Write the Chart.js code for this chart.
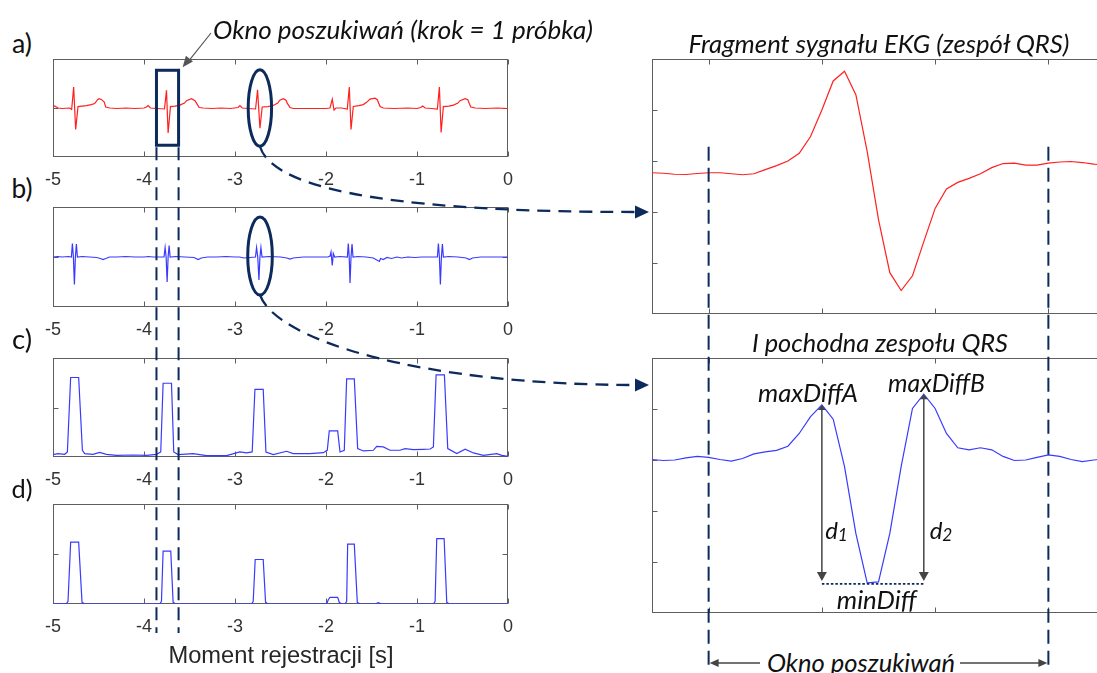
<!DOCTYPE html>
<html>
<head>
<meta charset="utf-8">
<script src="https://cdn.jsdelivr.net/npm/chart.js@4"></script>
<style>
  html, body { margin: 0; padding: 0; background: #fff; overflow: hidden; width: 1097px; height: 673px; }
  .pane { position: absolute; }
  .txt { position: absolute; white-space: nowrap; line-height: 1; transform: translate(-50%, -50%); }
  #overlay { position: absolute; left: 0; top: 0; pointer-events: none; }
</style>
</head>
<body>
<script>
// ---------- a) raw ECG, last 5 s ----------
const ekgTime = [-5, -4.982, -4.945, -4.90, -4.817, -4.795, -4.773, -4.751, -4.725, -4.68,
  -4.633, -4.58, -4.542, -4.51, -4.494, -4.465, -4.437, -4.421, -4.377, -4.30,
  -4.20, -4.10, -4.0, -3.973, -3.955, -3.929, -3.85, -3.775, -3.753, -3.735,
  -3.709, -3.66, -3.607, -3.555, -3.533, -3.478, -3.44, -3.423, -3.394, -3.35,
  -3.25, -3.15, -3.05, -2.965, -2.946, -2.921, -2.85, -2.774, -2.752, -2.726,
  -2.701, -2.64, -2.58, -2.53, -2.507, -2.470, -2.44, -2.426, -2.396, -2.36,
  -2.25, -2.10, -2.0, -1.956, -1.931, -1.912, -1.890, -1.83, -1.766, -1.744,
  -1.725, -1.700, -1.64, -1.590, -1.55, -1.516, -1.461, -1.436, -1.406, -1.370,
  -1.25, -1.10, -1.0, -0.959, -0.937, -0.911, -0.84, -0.776, -0.754, -0.735,
  -0.710, -0.65, -0.600, -0.55, -0.527, -0.471, -0.442, -0.409, -0.361, -0.25,
  -0.12, 0];
const ekgValue = [0.02, 0.04, 0.0, -0.01, 0.0, -0.03, 0.43, -0.44, 0.03, 0.04,
  0.05, 0.07, 0.09, 0.17, 0.19, 0.17, 0.12, 0.02, 0.0, -0.01,
  0.0, -0.01, 0.0, 0.02, 0.05, 0.0, -0.01, -0.02, 0.36, -0.51,
  0.03, 0.04, 0.06, 0.10, 0.15, 0.19, 0.15, 0.10, 0.01, 0.0,
  -0.01, 0.0, -0.01, 0.01, 0.05, 0.0, -0.01, -0.02, 0.37, -0.41,
  0.02, 0.03, 0.05, 0.10, 0.16, 0.19, 0.16, 0.10, 0.01, -0.01,
  -0.01, -0.01, -0.01, 0.0, 0.18, -0.04, 0.0, 0.0, -0.02, 0.43,
  -0.44, 0.03, 0.05, 0.07, 0.12, 0.18, 0.20, 0.17, 0.03, 0.0,
  -0.01, 0.0, -0.01, 0.01, 0.04, 0.0, -0.01, -0.02, 0.43, -0.50,
  0.03, 0.04, 0.06, 0.10, 0.15, 0.19, 0.17, 0.02, 0.0, -0.01,
  0.0, -0.01];

// ---------- b) first derivative ----------
const diffTime = [-5, -4.95, -4.90, -4.83, -4.798, -4.787, -4.776, -4.765, -4.754, -4.743,
  -4.732, -4.68, -4.60, -4.52, -4.48, -4.45, -4.42, -4.38, -4.30, -4.20,
  -4.10, -4.0, -3.95, -3.90, -3.78, -3.768, -3.757, -3.746, -3.735, -3.724,
  -3.713, -3.65, -3.55, -3.45, -3.405, -3.37, -3.30, -3.2, -3.1, -3.0,
  -2.95, -2.90, -2.775, -2.763, -2.750, -2.737, -2.726, -2.715, -2.703, -2.63,
  -2.5, -2.43, -2.396, -2.36, -2.25, -2.1, -1.98, -1.955, -1.945, -1.931,
  -1.920, -1.905, -1.85, -1.765, -1.755, -1.745, -1.736, -1.725, -1.714, -1.703,
  -1.65, -1.56, -1.48, -1.414, -1.40, -1.37, -1.33, -1.28, -1.22, -1.17,
  -1.10, -1.02, -0.95, -0.85, -0.776, -0.765, -0.754, -0.743, -0.732, -0.721,
  -0.710, -0.65, -0.55, -0.46, -0.424, -0.39, -0.3, -0.15, 0];
const diffValue = [0.0, 0.01, 0.0, 0.01, 0.0, 0.27, 0.0, -0.55, 0.0, 0.26,
  0.0, 0.01, 0.0, -0.01, -0.03, -0.05, -0.03, 0.0, 0.0, 0.01,
  0.0, 0.0, 0.01, 0.0, 0.0, 0.19, 0.0, -0.50, 0.0, 0.23,
  0.0, 0.01, 0.0, -0.01, -0.05, -0.02, 0.0, 0.0, 0.01, 0.0,
  0.0, -0.02, 0.0, 0.19, 0.0, -0.46, 0.0, 0.19, 0.0, 0.01,
  0.0, -0.02, -0.04, -0.02, 0.0, 0.0, 0.0, 0.02, 0.10, -0.17,
  0.07, 0.0, 0.01, 0.0, 0.27, 0.0, -0.52, 0.0, 0.26, 0.0,
  0.01, 0.0, -0.02, -0.09, -0.03, -0.05, -0.01, -0.03, 0.0, -0.02,
  0.0, -0.01, 0.0, 0.0, 0.0, 0.27, 0.0, -0.55, 0.0, 0.26,
  0.0, 0.01, 0.0, -0.02, -0.05, -0.02, 0.0, 0.0, 0.0];

// ---------- c) feature signal ----------
const featTime = [-5, -4.945, -4.872, -4.842, -4.806, -4.718, -4.677, -4.652, -4.560, -4.487,
  -4.413, -4.303, -4.120, -3.973, -3.863, -3.816, -3.790, -3.698, -3.673, -3.625,
  -3.460, -3.313, -3.093, -2.946, -2.873, -2.811, -2.781, -2.690, -2.660, -2.580,
  -2.433, -2.360, -2.176, -2.030, -1.986, -1.964, -1.872, -1.846, -1.799, -1.773,
  -1.689, -1.652, -1.590, -1.480, -1.443, -1.370, -1.296, -1.186, -1.131, -1.040,
  -0.930, -0.856, -0.820, -0.790, -0.699, -0.662, -0.563, -0.471, -0.380, -0.270,
  -0.123, -0.068, 0];
const featValue = [0.024, 0.034, 0.027, 0.051, 0.803, 0.803, 0.068, 0.034, 0.027, 0.047,
  0.027, 0.017, 0.020, 0.017, 0.027, 0.051, 0.745, 0.745, 0.051, 0.024,
  0.034, 0.014, 0.014, 0.051, 0.041, 0.051, 0.684, 0.684, 0.051, 0.024,
  0.058, 0.034, 0.034, 0.044, 0.068, 0.264, 0.264, 0.051, 0.068, 0.789,
  0.789, 0.085, 0.061, 0.068, 0.108, 0.102, 0.068, 0.068, 0.085, 0.075,
  0.078, 0.081, 0.102, 0.830, 0.830, 0.085, 0.034, 0.078, 0.041, 0.017,
  0.034, 0.017, 0.007];

// ---------- d) detection function ----------
const detTime = [-5, -4.853, -4.835, -4.806, -4.718, -4.681, -4.652, -3.827, -3.808, -3.790,
  -3.706, -3.680, -3.651, -2.818, -2.800, -2.778, -2.690, -2.664, -2.635, -1.993,
  -1.975, -1.956, -1.872, -1.854, -1.828, -1.791, -1.773, -1.762, -1.689, -1.656,
  -1.626, -1.461, -1.425, -1.388, -0.820, -0.801, -0.783, -0.702, -0.673, -0.644, 0];
const detValue = [0, 0.003, 0.027, 0.618, 0.618, 0.017, 0, 0, 0.027, 0.528,
  0.528, 0.017, 0, 0, 0.027, 0.445, 0.445, 0.017, 0, 0,
  0.043, 0.066, 0.066, 0.017, 0, 0, 0.027, 0.598, 0.598, 0.017,
  0, 0, 0.013, 0, 0, 0.027, 0.654, 0.654, 0.017, 0, 0];

// ---------- right: one QRS complex (samples) ----------
const qrsSample = [0, 1, 2, 3, 4, 5, 6, 7, 8, 9, 10, 11, 12, 13, 14, 15, 16, 17, 18, 19, 20,
  21, 22, 23, 24, 25, 26, 27, 28, 29, 30, 31, 32, 33, 34, 35, 36, 37, 38, 39, 40];
const qrsEkg = [2.77, 2.76, 2.74, 2.735, 2.755, 2.77, 2.77, 2.75, 2.73, 2.75,
  2.83, 2.91, 3.00, 3.15, 3.48, 4.00, 4.57, 4.76, 4.30, 3.19,
  1.85, 0.81, 0.46, 0.75, 1.42, 2.07, 2.45, 2.58, 2.66, 2.75,
  2.87, 2.95, 2.96, 2.92, 2.92, 2.96, 2.98, 2.99, 2.97, 2.94, 2.93];
const qrsDiff = [3.01, 2.99, 3.00, 3.04, 3.07, 3.05, 3.01, 2.98, 3.03, 3.12,
  3.16, 3.19, 3.27, 3.52, 3.85, 4.08, 3.80, 2.87, 1.56, 0.59,
  0.61, 1.56, 2.87, 4.01, 4.29, 4.01, 3.52, 3.24, 3.20, 3.24,
  3.20, 3.07, 2.99, 3.00, 3.05, 3.10, 3.07, 3.01, 2.97, 3.00, 3.02];

// ---------- tick positions ----------
const timeTicks = [-5, -4, -3, -2, -1, 0];
const sampleTicks = [5, 15, 25, 35];
const qrsLevelTicks = [1, 2, 3, 4];

// search window (seconds) and the marked complex
const windowStart = -3.863, windowEnd = -3.62;
const searchFrom = 5, searchTo = 35;        // search window in samples
const peakA = 15, peakB = 24;               // maxDiffA / maxDiffB sample index

const RED = '#ff2020';
const BLUE = '#3a3aff';
const NAVY = '#0d2a5c';
const FRAME = '#5e5e5e';
const PAD = 20;

// box + inward tick marks on all four sides
const framePlugin = {
  id: 'frame',
  beforeDatasetsDraw(chart, args, o) {
    const { ctx, chartArea: a, scales: { x, y } } = chart;
    const L = Math.round(a.left) + 0.5, R = Math.round(a.right) - 0.5;
    const T = Math.round(a.top) + 0.5, B = Math.round(a.bottom) - 0.5;
    ctx.save();
    ctx.strokeStyle = FRAME;
    ctx.lineWidth = 1;
    ctx.strokeRect(L, T, R - L, B - T);
    ctx.beginPath();
    (o.xTicks || []).forEach(v => {
      const px = Math.round(x.getPixelForValue(v)) + 0.5;
      ctx.moveTo(px, T); ctx.lineTo(px, T + 5);
      ctx.moveTo(px, B); ctx.lineTo(px, B - 5);
    });
    (o.yTicks || []).forEach(v => {
      const py = Math.round(y.getPixelForValue(v)) + 0.5;
      ctx.moveTo(L, py); ctx.lineTo(L + 5, py);
      ctx.moveTo(R, py); ctx.lineTo(R - 5, py);
    });
    ctx.stroke();
    ctx.restore();
  }
};

function makeChart(box, xs, ys, opt) {
  const below = opt.labels ? 40 : PAD;
  const W = box.w + 2 * PAD, H = box.h + PAD + below;
  const wrap = document.createElement('div');
  wrap.className = 'pane';
  wrap.style.left = (box.left - PAD) + 'px';
  wrap.style.top = (box.top - PAD) + 'px';
  const cv = document.createElement('canvas');
  cv.width = W; cv.height = H;
  cv.style.width = W + 'px'; cv.style.height = H + 'px';
  wrap.appendChild(cv);
  document.body.appendChild(wrap);
  const chart = new Chart(cv, {
    type: 'line',
    data: {
      datasets: [{
        data: xs.map((x, i) => ({ x, y: ys[i] })),
        borderColor: opt.color, borderWidth: 1.2,
        pointRadius: 0, tension: 0, fill: false
      }]
    },
    options: {
      responsive: false, animation: false, devicePixelRatio: 1,
      layout: { padding: { left: PAD, right: PAD, top: PAD, bottom: 0 } },
      plugins: {
        legend: { display: false }, tooltip: { enabled: false },
        frame: { xTicks: opt.xTicks, yTicks: opt.yTicks }
      },
      scales: {
        x: {
          type: 'linear', min: opt.xMin, max: opt.xMax, display: true,
          afterFit: s => { s.height = below; },
          grid: { display: false, drawTicks: false }, border: { display: false },
          ticks: {
            display: !!opt.labels,
            stepSize: 1, padding: 12, maxRotation: 0, autoSkip: false, color: '#333',
            font: { family: '"Liberation Sans", Arial, sans-serif', size: 18 }
          }
        },
        y: { type: 'linear', min: opt.yMin, max: opt.yMax, display: false }
      }
    },
    plugins: [framePlugin]
  });
  chart.pageLeft = box.left - PAD;
  chart.pageTop = box.top - PAD;
  return chart;
}

const leftBox = (top, h) => ({ left: 53, w: 455, top, h });
const chA = makeChart(leftBox(59, 98), ekgTime, ekgValue,
  { color: RED, xMin: -5, xMax: 0, yMin: -1, yMax: 1, labels: true, xTicks: timeTicks, yTicks: [0] });
const chB = makeChart(leftBox(207, 100), diffTime, diffValue,
  { color: BLUE, xMin: -5, xMax: 0, yMin: -1, yMax: 1, labels: true, xTicks: timeTicks, yTicks: [0] });
const chC = makeChart(leftBox(358, 99), featTime, featValue,
  { color: BLUE, xMin: -5, xMax: 0, yMin: 0, yMax: 1, labels: true, xTicks: timeTicks, yTicks: [0.5] });
const chD = makeChart(leftBox(504, 100), detTime, detValue,
  { color: BLUE, xMin: -5, xMax: 0, yMin: 0, yMax: 1, labels: true, xTicks: timeTicks, yTicks: [0.5] });
const chR1 = makeChart({ left: 652, w: 453, top: 59, h: 255 }, qrsSample, qrsEkg,
  { color: RED, xMin: 0, xMax: 40, yMin: 0, yMax: 5, labels: false, xTicks: sampleTicks, yTicks: qrsLevelTicks });
const chR2 = makeChart({ left: 652, w: 453, top: 358, h: 255 }, qrsSample, qrsDiff,
  { color: BLUE, xMin: 0, xMax: 40, yMin: 0, yMax: 5, labels: false, xTicks: sampleTicks, yTicks: qrsLevelTicks });

const px = (ch, v) => ch.pageLeft + ch.scales.x.getPixelForValue(v);
const py = (ch, v) => ch.pageTop + ch.scales.y.getPixelForValue(v);

// ---------- text ----------
const measure = document.createElement('canvas').getContext('2d');
function putText(html, plain, cx, cy, width, o) {
  const style = o.italic ? 'italic ' : '';
  let size = o.size;
  if (!size) {
    measure.font = style + '100px ' + o.family;
    size = 100 * width / measure.measureText(plain).width;
  }
  const el = document.createElement('div');
  el.className = 'txt';
  el.style.font = style + size.toFixed(1) + 'px ' + o.family;
  el.style.color = o.color || '#111';
  el.style.left = cx + 'px';
  el.style.top = cy + 'px';
  el.innerHTML = html;
  document.body.appendChild(el);
  return el;
}
const HUM = 'Lato, "Open Sans", sans-serif';
const it = { italic: true, family: HUM, color: '#111' };
putText('Okno poszukiwań (krok = 1 próbka)', 'Okno poszukiwań (krok = 1 próbka)', 403, 29, 380, it);
putText('Fragment sygnału EKG (zespół QRS)', 'Fragment sygnału EKG (zespół QRS)', 879, 43, 382, it);
putText('I pochodna zespołu QRS', 'I pochodna zespołu QRS', 880, 342, 256, it);
putText('Okno poszukiwań', 'Okno poszukiwań', 861, 662, 188, it);
putText('maxDiffA', 'maxDiffA', 808, 392, 100, it);
putText('maxDiffB', 'maxDiffB', 936.5, 382, 97, it);
putText('minDiff', 'minDiff', 876.7, 599, 80, it);
const sub = n => 'd<span style="font-size:0.72em;vertical-align:-0.14em">' + n + '</span>';
putText(sub(1), '', 836.5, 530, 0, { italic: true, family: HUM, size: 24, color: '#111' });
putText(sub(2), '', 941, 530, 0, { italic: true, family: HUM, size: 24, color: '#111' });
const up = { family: HUM, color: '#111' };
putText('a)', 'a)', 22, 43, 20, up);
putText('b)', 'b)', 22, 188, 21, up);
putText('c)', 'c)', 22, 338, 20, up);
putText('d)', 'd)', 22, 488, 21, up);
putText('Moment rejestracji [s]', 'Moment rejestracji [s]', 281, 655, 225,
  { family: '"Liberation Sans", Arial, sans-serif', color: '#262626' });

// ---------- annotation layer ----------
const ov = document.createElement('canvas');
ov.id = 'overlay';
ov.width = 1097; ov.height = 673;
document.body.appendChild(ov);
const g = ov.getContext('2d');

function head(x, y, ang, len, half, color) {
  g.save();
  g.translate(x, y); g.rotate(ang);
  g.beginPath(); g.moveTo(0, 0); g.lineTo(-len, -half); g.lineTo(-len, half); g.closePath();
  g.fillStyle = color; g.fill();
  g.restore();
}

// search window rectangle and its dashed guides through b)-d)
const wx1 = px(chA, windowStart), wx2 = px(chA, windowEnd);
const wy1 = py(chA, 0.77), wy2 = py(chA, -0.76);
g.strokeStyle = NAVY;
g.lineWidth = 3;
g.strokeRect(wx1, wy1, wx2 - wx1, wy2 - wy1);
const guideEnd = chD.pageTop + chD.chartArea.bottom + 29;
g.lineWidth = 2;
g.setLineDash([13, 7]);
[wx1, wx2].forEach(x => {
  g.beginPath(); g.moveTo(x, wy2 + 2); g.lineTo(x, guideEnd); g.stroke();
});

// ellipses around the selected QRS complex
function ringAround(ch, t0, t1, v0, v1) {
  const x0 = px(ch, t0), x1 = px(ch, t1), y0 = py(ch, v1), y1 = py(ch, v0);
  g.setLineDash([]);
  g.lineWidth = 3;
  g.strokeStyle = NAVY;
  g.beginPath();
  g.ellipse((x0 + x1) / 2, (y0 + y1) / 2, (x1 - x0) / 2, (y1 - y0) / 2, 0, 0, Math.PI * 2);
  g.stroke();
  return { x: (x0 + x1) / 2, y: y1 };
}
const ringA = ringAround(chA, -2.855, -2.598, -0.78, 0.78);
const ringB = ringAround(chB, -2.86, -2.59, -0.76, 0.80);

// dashed zoom arrows to the right-hand panels
function zoomArrow(from, toX, toY, c1, c2) {
  g.setLineDash([13, 8]);
  g.lineWidth = 2.3;
  g.strokeStyle = NAVY;
  g.beginPath();
  g.moveTo(from.x, from.y);
  g.bezierCurveTo(from.x + c1[0], from.y + c1[1], c2, toY, toX - 12, toY);
  g.stroke();
  g.setLineDash([]);
  head(toX, toY, 0, 14, 6.5, NAVY);
}
zoomArrow(ringA, px(chR1, 0) - 3, py(chR1, 2), [14, 48], 420);
zoomArrow(ringB, px(chR2, 0) - 3, py(chR2, 4.47), [16, 45], 420);

// pointer from the caption to the window
g.setLineDash([]);
g.strokeStyle = '#555';
g.lineWidth = 1.2;
g.beginPath(); g.moveTo(211, 33); g.lineTo(wx2 + 9, wy1 - 8); g.stroke();
head(wx2 + 4, wy1 - 3, Math.atan2((wy1 - 8) - 33, (wx2 + 9) - 211), 11, 4.5, '#555');

// search window on the zoomed complex
const sx1 = px(chR1, searchFrom), sx2 = px(chR1, searchTo);
const sTop = py(chR1, 3.28), sBottom = 668;
g.strokeStyle = NAVY;
g.lineWidth = 2;
g.setLineDash([14, 7]);
[sx1, sx2].forEach(x => {
  g.beginPath(); g.moveTo(x, sTop); g.lineTo(x, sBottom); g.stroke();
});
g.setLineDash([]);

// "Okno poszukiwań" span arrows
const spanY = 663;
g.strokeStyle = '#444';
g.lineWidth = 1.3;
g.beginPath(); g.moveTo(sx1 + 4, spanY); g.lineTo(760, spanY); g.stroke();
g.beginPath(); g.moveTo(960, spanY); g.lineTo(sx2 - 4, spanY); g.stroke();
head(sx1 + 1, spanY, Math.PI, 9, 4, '#444');
head(sx2 - 1, spanY, 0, 9, 4, '#444');

// d1 / d2 distances from each maximum down to the minimum
const minVal = Math.min(...qrsDiff);
const yMin = py(chR2, minVal);
[peakA, peakB].forEach(k => {
  const x = px(chR2, k);
  const yTop = py(chR2, qrsDiff[k]);
  g.strokeStyle = '#444';
  g.lineWidth = 1.5;
  g.beginPath(); g.moveTo(x, yTop + 3); g.lineTo(x, yMin - 8); g.stroke();
  head(x, yMin - 2, Math.PI / 2, 9, 5, '#444');
  head(x, yTop, -Math.PI / 2, 5, 4, '#444');
});
g.strokeStyle = NAVY;
g.lineWidth = 1.6;
g.setLineDash([2.5, 2]);
g.beginPath(); g.moveTo(px(chR2, peakA), yMin + 1); g.lineTo(px(chR2, peakB), yMin + 1); g.stroke();
g.setLineDash([]);
</script>
</body>
</html>
